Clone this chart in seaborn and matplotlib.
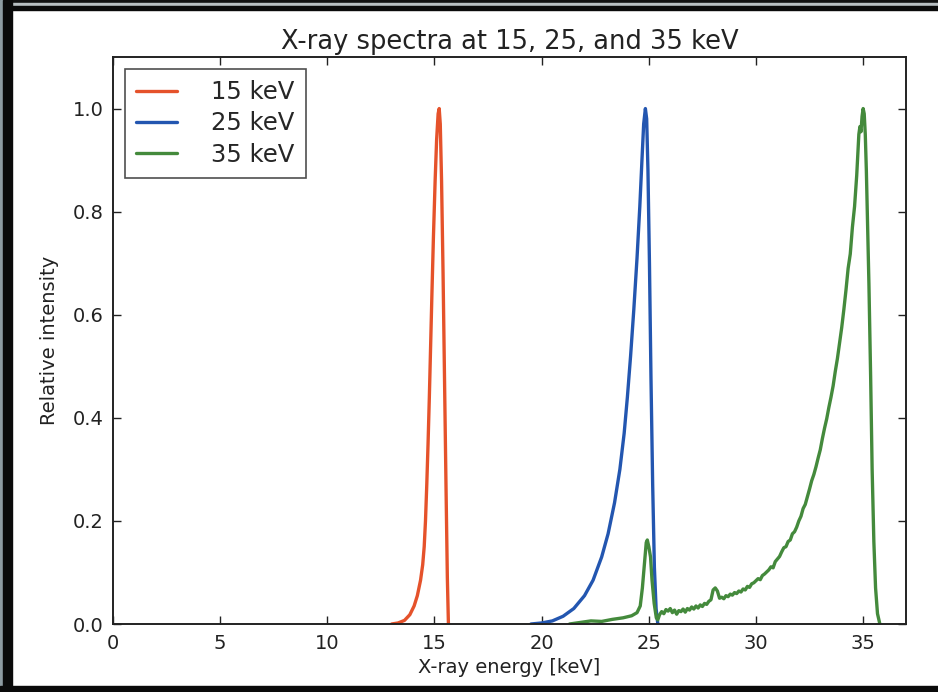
import numpy as np
import pandas as pd
import matplotlib
matplotlib.use("Agg")
import matplotlib.pyplot as plt
from matplotlib.patches import Rectangle
import seaborn as sns

# ---- data ----
e15 = [13.0, 13.3, 13.6, 13.85, 14.05, 14.2, 14.35, 14.45, 14.52, 14.58, 14.64,
       14.7, 14.76, 14.82, 14.88, 14.95, 15.03, 15.1, 15.17, 15.22, 15.27,
       15.33, 15.4, 15.47, 15.54, 15.6, 15.65]
i15 = [0.0, 0.002, 0.007, 0.018, 0.035, 0.055, 0.085, 0.115, 0.15, 0.20, 0.27,
       0.35, 0.44, 0.54, 0.64, 0.75, 0.86, 0.94, 0.99, 1.0, 0.97,
       0.86, 0.68, 0.47, 0.26, 0.09, 0.0]

e25 = [19.5, 20.0, 20.5, 21.0, 21.5, 22.0, 22.4, 22.8, 23.1, 23.4, 23.65,
       23.85, 24.0, 24.15, 24.3, 24.45, 24.58, 24.68, 24.76, 24.84, 24.9,
       24.96, 25.03, 25.1, 25.18, 25.26, 25.34, 25.42]
i25 = [0.0, 0.002, 0.006, 0.015, 0.03, 0.055, 0.085, 0.13, 0.175, 0.235, 0.30,
       0.37, 0.44, 0.52, 0.61, 0.71, 0.81, 0.90, 0.97, 1.0, 0.98,
       0.88, 0.70, 0.48, 0.27, 0.11, 0.03, 0.0]

e35 = [21.3, 21.8, 22.3, 22.8, 23.3, 23.8, 24.2, 24.45, 24.6, 24.7, 24.8,
       24.88, 24.93, 25.0, 25.08, 25.15, 25.25, 25.35, 25.42,
       25.5, 25.6, 25.7, 25.8, 25.9, 26.0, 26.1, 26.2, 26.3, 26.4, 26.5,
       26.6, 26.7, 26.8, 26.9, 27.0, 27.1, 27.2, 27.3, 27.4, 27.5,
       27.6, 27.7, 27.8, 27.9, 28.0, 28.1, 28.2, 28.3, 28.4, 28.5,
       28.6, 28.7, 28.8, 28.9, 29.0, 29.1, 29.2, 29.3, 29.4, 29.5,
       29.6, 29.7, 29.8, 29.9, 30.0, 30.1, 30.2, 30.3, 30.4, 30.5,
       30.6, 30.7, 30.8, 30.9, 31.0, 31.1, 31.2, 31.3, 31.4, 31.5,
       31.6, 31.7, 31.8, 31.9, 32.0, 32.1, 32.2, 32.3, 32.4, 32.5,
       32.6, 32.7, 32.8, 32.9, 33.0, 33.1, 33.2, 33.3, 33.4, 33.5,
       33.6, 33.7, 33.8, 33.9, 34.0, 34.1, 34.2, 34.3, 34.4, 34.5,
       34.6, 34.7, 34.8, 34.85, 34.9, 34.95, 35.0, 35.05, 35.1, 35.15,
       35.2, 35.27, 35.35, 35.42, 35.5, 35.58, 35.67, 35.78]
i35 = [0.0, 0.003, 0.006, 0.005, 0.009, 0.012, 0.016, 0.022, 0.035, 0.07, 0.12,
       0.158, 0.163, 0.15, 0.13, 0.085, 0.04, 0.012, 0.008,
       0.018, 0.024, 0.020, 0.028, 0.025, 0.030, 0.022, 0.027, 0.019, 0.026, 0.024,
       0.029, 0.023, 0.030, 0.027, 0.033, 0.029, 0.035, 0.031, 0.037, 0.034,
       0.040, 0.038, 0.044, 0.047, 0.066, 0.070, 0.064, 0.050, 0.052, 0.049,
       0.055, 0.053, 0.058, 0.056, 0.061, 0.059, 0.064, 0.062, 0.068, 0.066,
       0.073, 0.071, 0.078, 0.080, 0.084, 0.088, 0.086, 0.094, 0.097, 0.101,
       0.105, 0.111, 0.109, 0.121, 0.126, 0.131, 0.140, 0.148, 0.150, 0.160,
       0.163, 0.175, 0.179, 0.188, 0.200, 0.209, 0.224, 0.232, 0.247, 0.262,
       0.278, 0.290, 0.305, 0.322, 0.338, 0.360, 0.380, 0.398, 0.420, 0.440,
       0.462, 0.490, 0.515, 0.545, 0.575, 0.610, 0.648, 0.690, 0.718, 0.770,
       0.810, 0.870, 0.950, 0.965, 0.955, 0.985, 1.0, 0.99, 0.95, 0.88,
       0.79, 0.66, 0.48, 0.30, 0.16, 0.07, 0.02, 0.0]

series_labels = ["15 keV", "25 keV", "35 keV"]
colors = ["#e5522b", "#2356b0", "#448a3c"]
xticks = [0, 5, 10, 15, 20, 25, 30, 35]
yticks = [0.0, 0.2, 0.4, 0.6, 0.8, 1.0]

# ---- build long-form table ----
frames = []
for lab, ex, iy in zip(series_labels, [e15, e25, e35], [i15, i25, i35]):
    d = pd.DataFrame({"energy": ex, "intensity": iy})
    d["spectrum"] = lab
    frames.append(d)
df = pd.concat(frames, ignore_index=True)

sns.set_theme(style="ticks")
plt.rcParams["font.family"] = ["DejaVu Sans"]

W, H = 938, 692
fig = plt.figure(figsize=(W / 100, H / 100), dpi=100)
fig.patch.set_facecolor("white")

ax = fig.add_axes([113 / W, (H - 624) / H, (906 - 113) / W, (624 - 57) / H])

sns.lineplot(data=df, x="energy", y="intensity", hue="spectrum",
             palette=dict(zip(series_labels, colors)), sort=False,
             estimator=None, units="spectrum", lw=2.4, ax=ax, legend=True)

ax.set_xlim(0, 37)
ax.set_ylim(0, 1.1)
ax.set_xticks(xticks)
ax.set_yticks(yticks)
ax.set_yticklabels([f"{v:.1f}" for v in yticks])
ax.tick_params(direction="in", length=6, width=1, top=True, right=True,
               labelsize=14, pad=7, colors="#222222", labelcolor="#222222")
for s in ax.spines.values():
    s.set_linewidth(1.4)
    s.set_color("#222222")

ax.set_xlabel("X-ray energy [keV]", fontsize=14, labelpad=4, color="#222222")
ax.set_ylabel("Relative intensity", fontsize=14, labelpad=10, color="#222222")
ax.set_title("X-ray spectra at 15, 25, and 35 keV", fontsize=18.5, pad=6,
             color="#222222")

leg = ax.legend(loc="upper left", fontsize=17.5, frameon=True, fancybox=False,
                borderaxespad=0.5, handlelength=1.7, handletextpad=1.4,
                labelspacing=0.3, borderpad=0.45)
leg.get_frame().set_edgecolor("#222222")
leg.get_frame().set_linewidth(1.2)
for l in leg.get_lines():
    l.set_linewidth(2.4)

# ---- photographic black frame around the picture ----
def band(x0, y0, x1, y1, color):
    fig.patches.append(Rectangle((x0 / W, 1 - y1 / H), (x1 - x0) / W, (y1 - y0) / H,
                                 transform=fig.transFigure, color=color,
                                 zorder=10))

band(0, 0, W, 3, "#111111")
band(0, 3, W, 6, "#b8bfc2")
band(0, 6, W, 10, "#0a0a0a")
band(0, 0, 3, H, "#8e9ca2")
band(3, 0, 12, H, "#0a0a0a")
band(0, 686, W, H, "#0a0a0a")

fig.savefig("out.png", dpi=100)
